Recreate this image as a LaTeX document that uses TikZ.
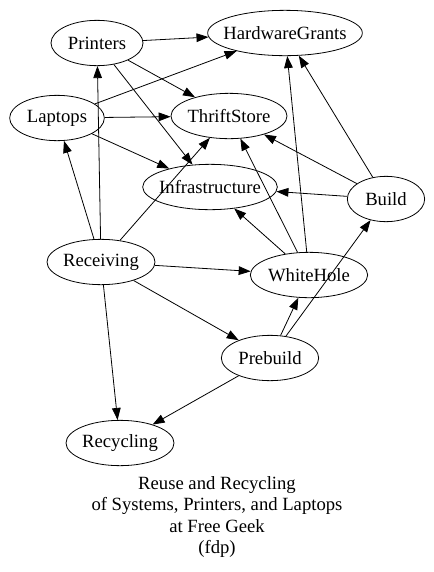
\documentclass[tikz,border=0pt]{standalone}
\usepackage{fontspec}
\setmainfont{Liberation Serif}
\usetikzlibrary{arrows.meta,shapes.geometric}

\begin{document}
\begin{tikzpicture}[
  x=0.75pt, y=-0.75pt,
  every node/.style={font=\fontsize{14pt}{16pt}\selectfont},
  gnode/.style={ellipse,draw,line width=0.6pt,inner sep=0pt,minimum height=34pt},
  arr/.style={-{Triangle[length=9pt,width=6.5pt]},line width=0.6pt},
]

\useasboundingbox (0,0) rectangle (434,572);

%% Nodes
\node[gnode,minimum width=69pt,label=center:Printers]        (printers)  at (97,43)   {};
\node[gnode,minimum width=116pt,label=center:HardwareGrants] (hwgrants)  at (285,33)  {};
\node[gnode,minimum width=71pt,label=center:Laptops]         (laptops)   at (57,118)  {};
\node[gnode,minimum width=87pt,label=center:ThriftStore]     (thrift)    at (229,116) {};
\node[gnode,minimum width=101pt,label=center:Infrastructure] (infra)     at (210,187) {};
\node[gnode,minimum width=58pt,label=center:Build]           (build)     at (386,199) {};
\node[gnode,minimum width=81pt,label=center:Receiving]       (receiving) at (101,262) {};
\node[gnode,minimum width=88pt,label=center:WhiteHole]       (whitehole) at (309,275) {};
\node[gnode,minimum width=73pt,label=center:Prebuild]        (prebuild)  at (270,358) {};
\node[gnode,minimum width=81pt,label=center:Recycling]       (recycling) at (120,443) {};

%% Edges
\draw[arr] (printers) -- (hwgrants);
\draw[arr] (printers) -- (thrift);
\draw[arr] (printers) -- (infra);
\draw[arr] (laptops) -- (hwgrants);
\draw[arr] (laptops) -- (thrift);
\draw[arr] (laptops) -- (infra);
\draw[arr] (receiving) -- (laptops);
\draw[arr] (receiving) -- (printers);
\draw[arr] (receiving) -- (thrift);
\draw[arr] (receiving) -- (whitehole);
\draw[arr] (receiving) -- (prebuild);
\draw[arr] (receiving) -- (recycling);
\draw[arr] (whitehole) -- (infra);
\draw[arr] (whitehole) -- (thrift);
\draw[arr] (whitehole) -- (hwgrants);
\draw[arr] (build) -- (hwgrants);
\draw[arr] (build) -- (thrift);
\draw[arr] (build) -- (infra);
\draw[arr] (prebuild) -- (whitehole);
\draw[arr] (prebuild) -- (build);
\draw[arr] (prebuild) -- (recycling);

%% Title
\node[align=center] (title) at (217,517)
  {Reuse and Recycling\\of Systems, Printers, and Laptops\\at Free Geek\\(fdp)};

\end{tikzpicture}
\end{document}
